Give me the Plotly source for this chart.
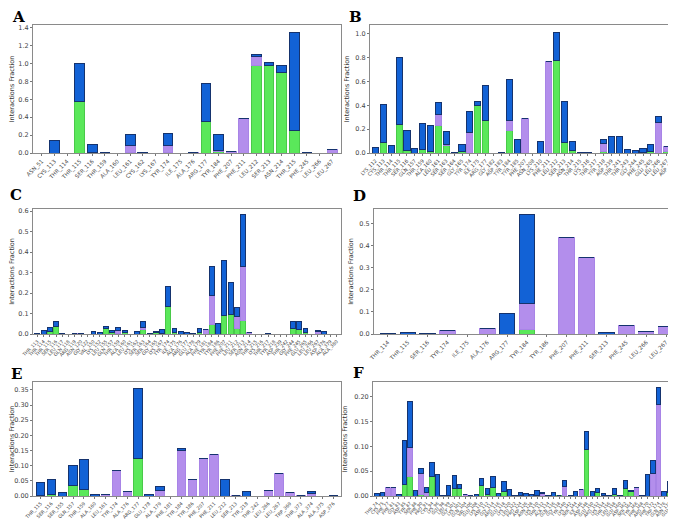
import plotly.graph_objects as go
from plotly.subplots import make_subplots

# ---- data: per panel residues + interaction fractions (H-bond, hydrophobic, water bridge)
a_res = ["ASN_51", "CYS_113", "THR_114", "THR_115", "SER_116", "THR_159", "ALA_160", "LEU_161",
         "CYS_162", "LYS_167", "TYR_174", "ILE_175", "ALA_176", "ARG_177", "TYR_184", "PHE_207",
         "PHE_211", "LEU_212", "SER_213", "ASN_214", "THR_215", "PHE_245", "LEU_266", "LEU_267"]
a_hb = [0, 0, 0, 0.57, 0.01, 0, 0, 0.01, 0, 0, 0.01, 0, 0, 0.35, 0.02, 0, 0, 0.98, 0.98, 0.9, 0.25, 0, 0, 0]
a_hy = [0, 0, 0, 0, 0, 0, 0, 0.07, 0, 0, 0.07, 0, 0.005, 0, 0.01, 0.015, 0.38, 0.10, 0, 0, 0, 0.005, 0, 0.04]
a_wb = [0, 0.14, 0, 0.43, 0.08, 0.005, 0, 0.13, 0.003, 0, 0.14, 0, 0, 0.43, 0.18, 0, 0, 0.015, 0.035, 0.08, 1.10, 0, 0, 0]

b_res = ["LYS_112", "CYS_113", "THR_114", "THR_115", "SER_116", "GLN_157", "THR_159", "ALA_160",
         "LEU_161", "SER_163", "SER_164", "GLY_165", "TYR_174", "ILE_175", "ARG_177", "GLY_182",
         "ASP_183", "TYR_184", "TYR_185", "PHE_207", "ASN_208", "LYS_210", "PHE_211", "LEU_212",
         "SER_213", "ASN_214", "THR_215", "LYS_216", "THR_217", "TYR_218", "ASP_239", "THR_241",
         "THR_243", "GLY_244", "PHE_245", "GLU_265", "LEU_266", "LEU_267", "ASP_376"]
b_hb = [0, 0.085, 0, 0.24, 0.02, 0, 0.03, 0.01, 0.23, 0.06, 0, 0.015, 0, 0.40, 0.27, 0, 0, 0.19, 0, 0,
        0, 0, 0, 0.78, 0.085, 0.02, 0, 0, 0, 0.01, 0, 0, 0, 0, 0.005, 0.01, 0, 0.01, 0]
b_hy = [0, 0, 0, 0, 0, 0, 0, 0, 0.09, 0.01, 0, 0, 0.17, 0, 0, 0, 0, 0.08, 0, 0.29,
        0, 0, 0.77, 0, 0, 0, 0, 0, 0, 0.07, 0, 0, 0, 0, 0, 0, 0.26, 0.045, 0]
b_wb = [0.05, 0.325, 0.06, 0.56, 0.17, 0.04, 0.22, 0.22, 0.10, 0.11, 0.003, 0.055, 0.18, 0.03, 0.30, 0, 0.005, 0.35, 0.11, 0,
        0, 0.10, 0, 0.23, 0.345, 0.08, 0.008, 0.005, 0, 0.03, 0.14, 0.14, 0.03, 0.025, 0.035, 0.06, 0.045, 0, 0.015]

c_res = ["THR_113", "THR_114", "THR_115", "SER_116", "LEU_117", "GLN_118", "ARG_119", "ASN_120",
         "GLY_122", "VAL_150", "LYS_152", "LEU_155", "GLN_157", "THR_159", "ALA_160", "LEU_161",
         "LYS_162", "SER_163", "SER_164", "GLY_165", "LYS_167", "TYR_174", "ILE_175", "ALA_176",
         "ARG_177", "GLU_178", "ALA_179", "PHE_181", "TYR_184", "TYR_186", "PHE_207", "PHE_211",
         "LEU_212", "SER_213", "ASN_214", "THR_215", "LYS_216", "THR_217", "TYR_218", "ASP_239",
         "THR_242", "GLY_244", "PHE_245", "GLU_265", "LEU_266", "LEU_267", "ASP_376", "ALA_379", "ALA_380"]
c_hb = [0, 0, 0.012, 0.035, 0, 0, 0, 0, 0, 0, 0, 0.025, 0.005, 0.002, 0.005, 0, 0, 0.02, 0, 0.005,
        0, 0.135, 0.005, 0, 0, 0, 0.005, 0, 0.045, 0, 0.09, 0.095, 0.025, 0.065, 0, 0, 0, 0, 0, 0,
        0, 0.028, 0.02, 0.005, 0, 0, 0, 0, 0]
c_hy = [0, 0, 0, 0, 0, 0, 0.002, 0, 0, 0, 0, 0, 0, 0.015, 0, 0, 0, 0.013, 0, 0.003,
        0.002, 0, 0, 0, 0, 0, 0, 0.02, 0.145, 0, 0, 0, 0.06, 0.265, 0.005, 0, 0, 0, 0, 0,
        0, 0, 0, 0, 0, 0.01, 0, 0, 0]
c_wb = [0.002, 0.015, 0.018, 0.025, 0.004, 0, 0, 0.002, 0, 0.012, 0.008, 0.013, 0.01, 0.013, 0.01, 0, 0.012, 0.027, 0.003, 0.002,
        0.02, 0.095, 0.02, 0.012, 0.008, 0.002, 0.02, 0, 0.14, 0.05, 0.27, 0.155, 0.045, 0.255, 0, 0, 0, 0.003, 0, 0,
        0, 0.032, 0.043, 0.02, 0, 0.008, 0.012, 0, 0]

d_res = ["THR_114", "THR_115", "SER_116", "TYR_174", "ILE_175", "ALA_176", "ARG_177", "TYR_184",
         "TYR_186", "PHE_207", "PHE_211", "SER_213", "PHE_245", "LEU_266", "LEU_267"]
d_hb = [0, 0, 0, 0, 0, 0, 0, 0.02, 0, 0, 0, 0, 0, 0, 0]
d_hy = [0, 0, 0, 0.018, 0, 0.023, 0, 0.12, 0, 0.44, 0.345, 0, 0.037, 0.012, 0.032]
d_wb = [0.002, 0.008, 0.002, 0, 0, 0, 0.093, 0.40, 0, 0, 0, 0.005, 0, 0, 0]

e_res = ["THR_115", "SER_116", "SER_155", "GLN_157", "THR_159", "ALA_160", "LEU_161", "TYR_174",
         "ALA_176", "ARG_177", "GLU_178", "ALA_179", "PHE_181", "TYR_184", "TYR_186", "PHE_207",
         "PHE_211", "LEU_212", "SER_213", "TYR_218", "THR_242", "LEU_266", "LEU_267", "TRP_369",
         "THR_373", "ALA_374", "ALA_375", "ASP_376"]
e_hb = [0.003, 0.005, 0, 0.033, 0.02, 0, 0, 0, 0, 0.123, 0, 0, 0, 0,
        0, 0, 0, 0, 0, 0, 0, 0, 0, 0, 0, 0, 0, 0]
e_hy = [0, 0, 0, 0, 0, 0, 0.004, 0.083, 0.016, 0, 0, 0.017, 0, 0.15,
        0.055, 0.125, 0.138, 0, 0.002, 0, 0, 0.019, 0.073, 0.012, 0.002, 0.007, 0, 0]
e_wb = [0.042, 0.05, 0.012, 0.067, 0.101, 0.006, 0, 0, 0, 0.232, 0.004, 0.015, 0, 0.006,
        0, 0, 0, 0.054, 0, 0.016, 0, 0, 0, 0, 0, 0.009, 0, 0.003]

f_res = ["THR_74", "CYS_75", "PHE_77", "PHE_81", "GLY_83", "ASP_85", "TYR_87", "SER_88", "PHE_90",
         "PRO_91", "CYS_94", "LYS_96", "GLU_98", "LEU_99", "GLY_101", "LYS_103", "GLN_104", "VAL_106",
         "GLU_108", "LYS_110", "ASP_112", "GLY_114", "ARG_116", "GLU_118", "LYS_120", "LEU_122",
         "PRO_124", "ASP_126", "ASN_128", "LYS_130", "THR_132", "ALA_134", "GLN_136", "GLY_138",
         "TYR_140", "LYS_142", "SER_144", "ILE_146", "ASP_148", "GLU_150", "ARG_152", "LYS_154",
         "THR_156", "LEU_158", "GLU_160", "ASP_162", "SER_164", "TYR_166", "PHE_168", "ARG_170",
         "PHE_172", "TRP_174", "GLN_176", "ASN_178", "GLU_180"]
f_hb = [0, 0, 0, 0, 0, 0.024, 0.039, 0, 0.003, 0, 0.039, 0, 0, 0.002, 0.016, 0.016, 0, 0, 0, 0.022,
        0.003, 0.018, 0, 0.009, 0, 0, 0.002, 0, 0, 0.002, 0, 0, 0, 0.002, 0, 0, 0, 0, 0.093, 0,
        0.008, 0.002, 0, 0.003, 0, 0.016, 0.009, 0, 0, 0, 0, 0, 0, 0.008, 0]
f_hy = [0, 0, 0.018, 0.017, 0, 0, 0.059, 0, 0.043, 0.008, 0, 0, 0, 0, 0, 0, 0.003, 0, 0, 0,
        0, 0, 0, 0, 0, 0, 0, 0, 0, 0, 0.005, 0, 0, 0, 0.019, 0, 0, 0.014, 0, 0,
        0, 0, 0, 0, 0, 0, 0, 0.018, 0, 0, 0.045, 0.183, 0, 0, 0.002]
f_wb = [0.005, 0.008, 0, 0, 0.004, 0.087, 0.092, 0.012, 0.009, 0.009, 0.029, 0.044, 0.001, 0.019, 0.025, 0.007, 0, 0.002, 0.004, 0.013,
        0.013, 0.021, 0.006, 0.02, 0.014, 0.001, 0.005, 0.006, 0.004, 0.01, 0.002, 0.002, 0.008, 0, 0.012, 0.001, 0.01, 0, 0.037, 0.01,
        0.008, 0.004, 0.001, 0.013, 0.001, 0.015, 0.003, 0, 0.001, 0.043, 0.027, 0.034, 0.01, 0.022, 0.033]

panels = [
    ("A", a_res, a_hb, a_hy, a_wb, 1.43, [0, 0.2, 0.4, 0.6, 0.8, 1.0, 1.2, 1.4], "%.1f"),
    ("B", b_res, b_hb, b_hy, b_wb, 1.075, [0, 0.2, 0.4, 0.6, 0.8, 1.0], "%.1f"),
    ("C", c_res, c_hb, c_hy, c_wb, 0.61, [0, 0.1, 0.2, 0.3, 0.4, 0.5, 0.6], "%.1f"),
    ("D", d_res, d_hb, d_hy, d_wb, 0.567, [0, 0.1, 0.2, 0.3, 0.4, 0.5], "%.1f"),
    ("E", e_res, e_hb, e_hy, e_wb, 0.376, [0, 0.05, 0.1, 0.15, 0.2, 0.25, 0.3, 0.35], "%.2f"),
    ("F", f_res, f_hb, f_hy, f_wb, 0.229, [0, 0.05, 0.1, 0.15, 0.2], "%.2f"),
]

W, H = 676, 521
# plot boxes in pixels: (left, right, top, bottom)
boxes = [(25, 333, 17, 145), (362, 672, 17, 145),
         (25, 333, 201, 326), (366, 672, 201, 326),
         (25, 333, 374, 488), (365, 671, 374, 488)]
letters = [(10, 9), (347, 9), (8, 187), (351, 188), (8, 366), (350, 365)]
xfont = [5.5, 5, 4.6, 5.5, 4.7, 4.3]

green, purple, blue = "#5ae85a", "#b38eec", "#1262d6"
edges = ["#49c949", "#a884e6", "#15336e"]

fig = make_subplots(rows=3, cols=2)

for i, (tag, res, hb, hy, wb, ymax, yt, fmt) in enumerate(panels):
    r, c = i // 2 + 1, i % 2 + 1
    xs = list(range(len(res)))
    for vals, col, ec in zip([hb, hy, wb], [green, purple, blue], edges):
        fig.add_trace(go.Bar(x=xs, y=vals, marker=dict(color=col, line=dict(color=ec, width=1)),
                             width=0.78, showlegend=False), row=r, col=c)
    l, rr, t, b = boxes[i]
    ax = "" if i == 0 else str(i + 1)
    fig.layout["xaxis" + ax].update(
        domain=[l / W, rr / W], range=[-0.7, len(res) - 0.3],
        tickmode="array", tickvals=xs, ticktext=res, tickangle=-45,
        tickfont=dict(size=xfont[i], color="#444"), ticks="outside", ticklen=2,
        tickcolor="#777", showline=True, linecolor="#8a8a8a", mirror=True,
        showgrid=False, zeroline=False, automargin=False)
    fig.layout["yaxis" + ax].update(
        domain=[1 - b / H, 1 - t / H], range=[0, ymax],
        tickmode="array", tickvals=yt, ticktext=[fmt % v for v in yt],
        tickfont=dict(size=6.5, color="#444"), ticks="outside", ticklen=2,
        tickcolor="#777", showline=True, linecolor="#8a8a8a", mirror=True,
        showgrid=False, zeroline=False, automargin=False,
        title=dict(text="Interactions Fraction", font=dict(size=6.5, color="#333"), standoff=5))
    lx, ly = letters[i]
    fig.add_annotation(text="<b>%s</b>" % tag, xref="paper", yref="paper",
                       x=lx / W, y=1 - ly / H, xanchor="center", yanchor="middle",
                       showarrow=False,
                       font=dict(family="DejaVu Serif", size=15, color="black"))

fig.update_layout(barmode="stack", width=W, height=H, bargap=0.2,
                  margin=dict(l=0, r=0, t=0, b=0),
                  paper_bgcolor="white", plot_bgcolor="white",
                  font=dict(family="DejaVu Sans"))

fig.write_html("out.html")
